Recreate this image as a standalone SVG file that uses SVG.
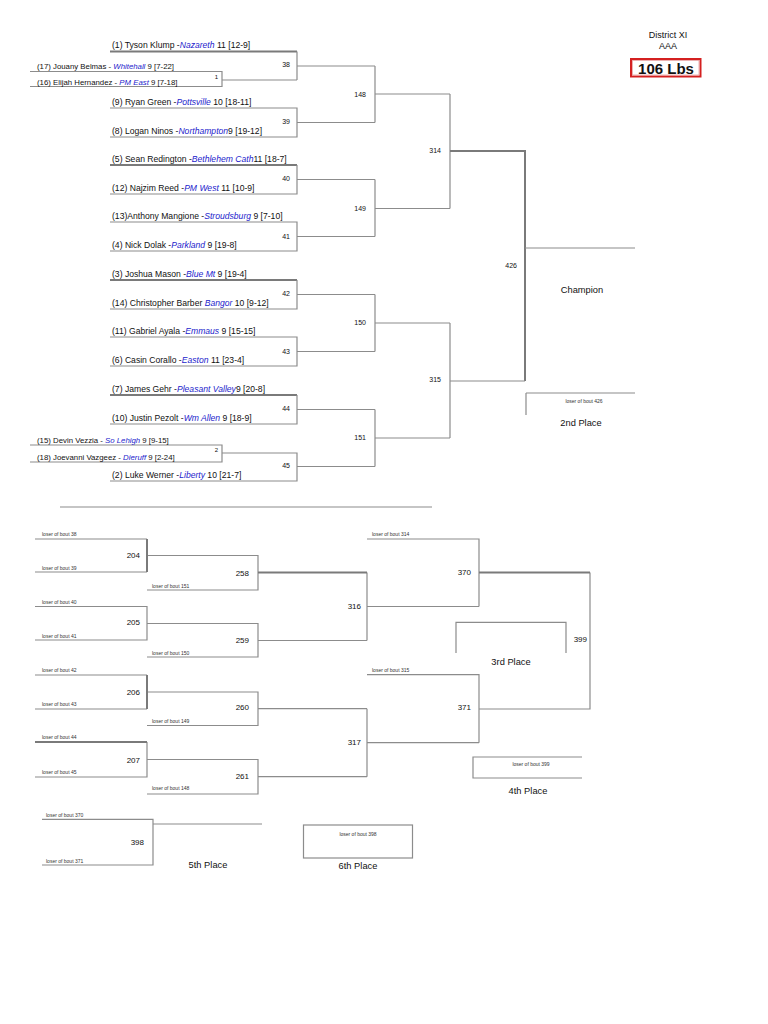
<svg xmlns="http://www.w3.org/2000/svg" width="768" height="1024" viewBox="0 0 768 1024">
<style>
text{font-family:"Liberation Sans",Arial,sans-serif;fill:#111}
.nm{font-size:8.6px}
.pt{font-size:7.8px}
.sc{fill:#1c1ccc;font-style:italic}
.bn{font-size:7px;text-anchor:end}
.cb{font-size:8px;text-anchor:end}
.lo{font-size:5px;fill:#333}
.pl{font-size:9.3px;text-anchor:middle}
.ln{fill:none;stroke:#8c8c8c;stroke-width:1.2}
.tk{fill:none;stroke:#7a7a7a;stroke-width:2}
</style>
<rect width="768" height="1024" fill="#fff"/>
<g id="header">
<text x="668" y="37.5" style="font-size:9px" text-anchor="middle">District XI</text>
<text x="668" y="48.5" style="font-size:9px" text-anchor="middle">AAA</text>
<rect x="631" y="59" width="69.5" height="17.5" fill="#fff" stroke="#d42020" stroke-width="2"/>
<rect x="632.5" y="60.5" width="66.5" height="14.5" fill="none" stroke="#e8a0a0" stroke-width="0.8"/>
<text x="666" y="73.5" text-anchor="middle" style="font-size:15px;font-weight:bold">106 Lbs</text>
</g>
<g id="connectors">
<path class="ln" d="M30,71.5H222V86.5H30M222,80H297"/>
<path class="tk" d="M110,51.5H297"/>
<path class="ln" d="M297,51.5V80M297,66H375M110,108H297V137H110M297,122.5H375M375,66V122.5M375,94H450"/>
<path class="tk" d="M110,165H297"/>
<path class="ln" d="M297,165V194H110M297,179.5H375M110,222H297V251H110M297,236.5H375M375,179.5V236.5M375,208.5H450M450,94V208.5"/>
<path class="tk" d="M450,151H525V381"/>
<path class="tk" d="M110,280H297"/>
<path class="ln" d="M297,280V309H110M297,294.5H375M110,337H297V366H110M297,351.5H375M375,294.5V351.5M375,323H450"/>
<path class="tk" d="M110,395H297"/>
<path class="ln" d="M297,395V424H110M297,409.5H375M30,445H222V462H30M222,453H297V481H110M297,466.5H375M375,409.5V466.5M375,438H450M450,323V438M450,381H525M525,248H635M526,393H635M526,393V415"/>
<path class="ln" d="M60,507H432"/>
<path class="ln" d="M35,539H147M35,572H147M147,555.5H258V590H147M35,606.5H147V640H35M147,623.5H258V657H147M258,640.5H367M367,572.5V640.5M367,606.5H479"/>
<path class="tk" d="M147,539V572M258,572.5H367"/>
<path class="ln" d="M35,675H147M147,709H35M147,692H258V725.5H147M258,708.7H367M35,777H147V742M147,759.5H258V794H147M258,776.7H367M367,708.7V776.7M367,742.7H479"/>
<path class="tk" d="M147,675V709M35,742H147"/>
<path class="ln" d="M367,539H479V606.5M367,674.7H479V742.7M479,709H590V572.5"/>
<path class="tk" d="M479,572.5H590"/>
<path class="ln" d="M456,653V622.3H566V653M582,757H473V778H582M42,819.3H153V865H42M153,824H262"/>
<rect class="ln" x="303.5" y="825" width="109" height="33"/>
</g>
<g id="w1"><text class="nm" x="112" y="48">(1) Tyson Klump -<tspan class="sc">Nazareth</tspan> 11 [12-9]</text></g>
<g id="w17"><text class="pt" x="37" y="69">(17) Jouany Belmas - <tspan class="sc">Whitehall</tspan> 9 [7-22]</text></g>
<g id="w16"><text class="pt" x="37" y="84.5">(16) Elijah Hernandez - <tspan class="sc">PM East</tspan> 9 [7-18]</text></g>
<g id="w9"><text class="nm" x="112" y="104.5">(9) Ryan Green -<tspan class="sc">Pottsville</tspan> 10 [18-11]</text></g>
<g id="w8"><text class="nm" x="112" y="133.5">(8) Logan Ninos -<tspan class="sc">Northampton</tspan>9 [19-12]</text></g>
<g id="w5"><text class="nm" x="112" y="161.5">(5) Sean Redington -<tspan class="sc">Bethlehem  Cath</tspan>11 [18-7]</text></g>
<g id="w12"><text class="nm" x="112" y="190.5">(12) Najzim Reed -<tspan class="sc">PM West</tspan> 11 [10-9]</text></g>
<g id="w13"><text class="nm" x="112" y="218.5">(13)Anthony Mangione -<tspan class="sc">Stroudsburg</tspan> 9 [7-10]</text></g>
<g id="w4"><text class="nm" x="112" y="247.5">(4) Nick Dolak -<tspan class="sc">Parkland</tspan> 9 [19-8]</text></g>
<g id="w3"><text class="nm" x="112" y="276.5">(3) Joshua Mason -<tspan class="sc">Blue Mt</tspan> 9 [19-4]</text></g>
<g id="w14"><text class="nm" x="112" y="305.5">(14) Christopher Barber <tspan class="sc">Bangor</tspan> 10 [9-12]</text></g>
<g id="w11"><text class="nm" x="112" y="333.5">(11) Gabriel Ayala -<tspan class="sc">Emmaus</tspan> 9 [15-15]</text></g>
<g id="w6"><text class="nm" x="112" y="362.5">(6) Casin Corallo -<tspan class="sc">Easton</tspan> 11 [23-4]</text></g>
<g id="w7"><text class="nm" x="112" y="391.5">(7) James Gehr -<tspan class="sc">Pleasant Valley</tspan>9 [20-8]</text></g>
<g id="w10"><text class="nm" x="112" y="420.5">(10) Justin Pezolt -<tspan class="sc">Wm  Allen</tspan> 9 [18-9]</text></g>
<g id="w15"><text class="pt" x="37" y="442.5">(15) Devin Vezzia - <tspan class="sc">So Lehigh</tspan>  9 [9-15]</text></g>
<g id="w18"><text class="pt" x="37" y="459.5">(18) Joevanni Vazgeez - <tspan class="sc">Dieruff</tspan> 9 [2-24]</text></g>
<g id="w2"><text class="nm" x="112" y="477.5">(2) Luke Werner -<tspan class="sc">Liberty</tspan> 10 [21-7]</text></g>
<g id="b1"><text class="bn" x="218" y="79" style="font-size:6px">1</text></g>
<g id="b2"><text class="bn" x="218" y="452" style="font-size:6px">2</text></g>
<g id="b38"><text class="bn" x="290" y="66.5">38</text></g>
<g id="b39"><text class="bn" x="290" y="124">39</text></g>
<g id="b40"><text class="bn" x="290" y="181">40</text></g>
<g id="b41"><text class="bn" x="290" y="238.5">41</text></g>
<g id="b42"><text class="bn" x="290" y="296">42</text></g>
<g id="b43"><text class="bn" x="290" y="353.5">43</text></g>
<g id="b44"><text class="bn" x="290" y="410.5">44</text></g>
<g id="b45"><text class="bn" x="290" y="467.5">45</text></g>
<g id="b148"><text class="bn" x="366" y="96.5">148</text></g>
<g id="b149"><text class="bn" x="366" y="210.5">149</text></g>
<g id="b150"><text class="bn" x="366" y="325">150</text></g>
<g id="b151"><text class="bn" x="366" y="440">151</text></g>
<g id="b314"><text class="bn" x="441" y="152.5">314</text></g>
<g id="b315"><text class="bn" x="441" y="382">315</text></g>
<g id="b426"><text class="bn" x="517" y="267.5">426</text></g>
<g id="champion"><text class="pl" x="582" y="292.5">Champion</text></g>
<g id="second"><text class="lo" x="584" y="403" text-anchor="middle">loser of bout 426</text><text class="pl" x="581" y="426">2nd Place</text></g>
<g id="c204"><text class="lo" x="42" y="536">loser of bout 38</text><text class="lo" x="42" y="569.5">loser of bout 39</text><text class="cb" x="140" y="558">204</text></g>
<g id="c258"><text class="lo" x="152" y="587.5">loser of bout 151</text><text class="cb" x="249" y="576">258</text></g>
<g id="c205"><text class="lo" x="42" y="603.5">loser of bout 40</text><text class="lo" x="42" y="637.5">loser of bout 41</text><text class="cb" x="140" y="625">205</text></g>
<g id="c259"><text class="lo" x="152" y="654.5">loser of bout 150</text><text class="cb" x="249" y="643">259</text></g>
<g id="c316"><text class="cb" x="361" y="609">316</text></g>
<g id="c206"><text class="lo" x="42" y="672">loser of bout 42</text><text class="lo" x="42" y="706">loser of bout 43</text><text class="cb" x="140" y="694.5">206</text></g>
<g id="c260"><text class="lo" x="152" y="723">loser of bout 149</text><text class="cb" x="249" y="710">260</text></g>
<g id="c207"><text class="lo" x="42" y="739">loser of bout 44</text><text class="lo" x="42" y="774">loser of bout 45</text><text class="cb" x="140" y="762.5">207</text></g>
<g id="c261"><text class="lo" x="152" y="790">loser of bout 148</text><text class="cb" x="249" y="778.5">261</text></g>
<g id="c317"><text class="cb" x="361" y="745">317</text></g>
<g id="c370"><text class="lo" x="372" y="536">loser of bout 314</text><text class="cb" x="471" y="574.5">370</text></g>
<g id="c371"><text class="lo" x="372" y="672">loser of bout 315</text><text class="cb" x="471" y="709.5">371</text></g>
<g id="c399"><text class="cb" x="587" y="641.5">399</text></g>
<g id="third"><text class="pl" x="511" y="665">3rd Place</text></g>
<g id="fourth"><text class="lo" x="531" y="766" text-anchor="middle">loser of bout 399</text><text class="pl" x="528" y="794">4th Place</text></g>
<g id="c398"><text class="lo" x="46" y="816.5">loser of bout 370</text><text class="lo" x="46" y="862.5">loser of bout 371</text><text class="cb" x="144" y="844.5">398</text></g>
<g id="fifth"><text class="pl" x="208" y="868">5th Place</text></g>
<g id="sixth"><text class="lo" x="358" y="836" text-anchor="middle">loser of bout 398</text><text class="pl" x="358" y="869">6th Place</text></g>
</svg>
